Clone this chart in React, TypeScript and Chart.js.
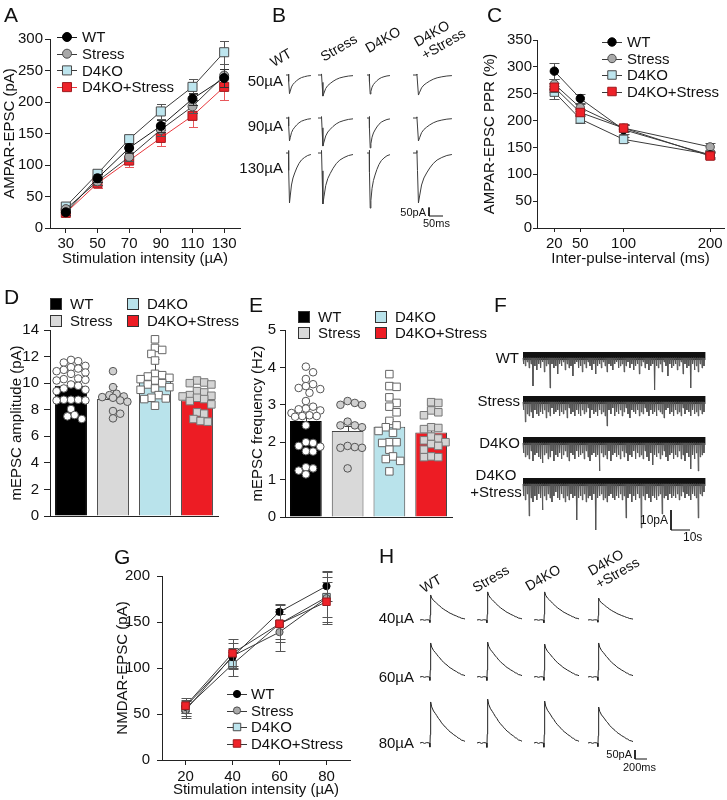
import React, { useEffect, useRef } from 'react';
import { Chart, registerables } from 'chart.js';

const FONT = '"Liberation Sans", Arial, Helvetica, sans-serif';

/* ======================= DATA ======================= */
const groups = ['WT', 'Stress', 'D4KO', 'D4KO+Stress'];

// Panel A - AMPAR-EPSC input/output
const ampaIntensity = [30, 50, 70, 90, 110, 130];
const ampaXTicks = [30, 50, 70, 90, 110, 130];
const ampaWT = [25, 79, 127, 162, 205, 238];
const ampaStress = [30, 74, 113, 156, 193, 242];
const ampaD4KO = [34, 86, 141, 185, 224, 279];
const ampaD4KOStress = [24, 71, 107, 143, 178, 224];
const ampaErrWT = [5, 6, 8, 10, 10, 14];
const ampaErrStress = [4, 6, 7, 10, 10, 18];
const ampaErrD4KO = [5, 6, 7, 12, 12, 18];
const ampaErrD4KOStress = [4, 7, 10, 13, 17, 21];

// Panel C - paired-pulse ratio
const pprInterval = [20, 50, 100, 200];
const pprXTicks = [20, 50, 100, 200];
const pprWT = [292, 241, 183, 136];
const pprStress = [268, 224, 186, 151];
const pprD4KO = [253, 203, 165, 137];
const pprD4KOStress = [262, 215, 186, 134];
const pprErrWT = [15, 9, 8, 6];
const pprErrStress = [10, 6, 6, 7];
const pprErrD4KO = [12, 7, 5, 5];
const pprErrD4KOStress = [8, 7, 8, 5];

// Panel G - NMDAR-EPSC input/output
const nmdaIntensity = [20, 40, 60, 80];
const nmdaXTicks = [20, 40, 60, 80];
const nmdaWT = [58, 112, 161, 189];
const nmdaStress = [54, 113, 139, 176];
const nmdaD4KO = [56, 104, 148, 177];
const nmdaD4KOStress = [59, 116, 148, 172];
const nmdaErrWT = [7, 10, 9, 16];
const nmdaErrStress = [8, 14, 20, 28];
const nmdaErrD4KO = [8, 13, 16, 22];
const nmdaErrD4KOStress = [8, 16, 20, 22];

// Panel D - mEPSC amplitude (pA)
const ampMean = [9.81, 8.8, 10.38, 8.72];
const ampErr = [0.3, 0.98, 1.43, 0.45];
const ampWTCells = [11.75, 11.65, 11.55, 11.3, 11.2, 11.1, 11.0, 10.9, 10.8, 10.7, 10.35, 10.3, 10.25, 10.2, 9.9, 9.8, 9.6, 9.5, 9.4, 8.75, 8.75, 8.75, 8.7, 8.7, 8.05, 7.6, 7.5, 7.3];
const ampStressCells = [10.9, 9.7, 9.2, 9.1, 9.0, 8.95, 8.9, 8.7, 8.6, 7.9, 7.7, 7.35];
const ampD4KOCells = [13.3, 12.65, 12.5, 12.2, 11.7, 10.7, 10.6, 10.5, 10.4, 10.3, 10.2, 10.0, 9.9, 9.7, 9.6, 9.5, 9.1, 8.9, 8.85, 8.8, 8.3];
const ampD4KOStressCells = [10.2, 10.05, 10.0, 9.9, 9.4, 9.3, 9.1, 9.05, 9.0, 8.9, 8.8, 8.65, 8.4, 7.8, 7.7, 7.3, 7.15, 7.1];

// Panel E - mEPSC frequency (Hz)
const freqMean = [2.57, 2.3, 2.41, 2.26];
const freqErr = [0.15, 0.14, 0.22, 0.1];
const freqWTCells = [4.02, 3.87, 3.69, 3.55, 3.5, 3.45, 3.42, 3.32, 3.1, 2.95, 2.9, 2.88, 2.85, 2.78, 2.72, 2.7, 2.7, 2.68, 2.45, 2.0, 1.98, 1.9, 1.88, 1.76, 1.75, 1.33, 1.3, 1.24, 1.14];
const freqStressCells = [3.1, 3.05, 3.0, 3.0, 2.55, 2.45, 2.45, 2.4, 1.9, 1.87, 1.85, 1.85, 1.3];
const freqD4KOCells = [3.82, 3.5, 3.48, 3.2, 3.05, 2.95, 2.8, 2.57, 2.45, 2.4, 2.3, 2.25, 2.0, 2.0, 1.98, 1.8, 1.62, 1.55, 1.5, 1.22];
const freqD4KOStressCells = [3.07, 3.05, 2.85, 2.8, 2.72, 2.4, 2.38, 2.35, 2.15, 2.1, 2.05, 2.0, 1.95, 1.9, 1.8, 1.62, 1.6, 1.6];

// Panel B - AMPAR-EPSC example traces
const ampaTraceRows = ['50\u00B5A', '90\u00B5A', '130\u00B5A'];
const ampaTraceAmp = [ // pA, rows x groups
  [110, 124, 112, 118],
  [135, 165, 176, 135],
  [294, 300, 324, 294],
];
const ampaTraceDur = [89, 125, 82, 139]; // ms
// waveform: [fraction of trace time, fraction of peak]
const ampaShape = [
  [0, 0], [0.1, 0], [0.1, 0.05], [0.115, -0.35], [0.14, -1], [0.17, -0.86], [0.22, -0.64],
  [0.28, -0.5], [0.35, -0.4], [0.43, -0.3], [0.52, -0.21], [0.62, -0.14], [0.74, -0.09],
  [0.87, -0.05], [1, -0.03],
];
const ampaScalePA = 50;
const ampaScaleMs = 50;

// Panel H - NMDAR-EPSC example traces
const nmdaTraceRows = ['40\u00B5A', '60\u00B5A', '80\u00B5A'];
const nmdaTraceAmp = [
  [139, 156, 156, 122],
  [189, 194, 183, 189],
  [228, 244, 233, 200],
];
const nmdaTraceDur = 750; // ms
const nmdaShape = [
  [0, 0], [0.05, 0.015], [0.1, -0.01], [0.15, 0.01], [0.21, 0], [0.22, -0.1], [0.228, 0.2],
  [0.237, 1], [0.26, 0.88], [0.3, 0.78], [0.34, 0.72], [0.37, 0.67], [0.41, 0.6], [0.44, 0.56],
  [0.48, 0.49], [0.52, 0.44], [0.56, 0.39], [0.6, 0.35], [0.64, 0.3], [0.67, 0.27], [0.71, 0.24],
  [0.74, 0.21], [0.78, 0.18], [0.81, 0.16], [0.85, 0.12], [0.88, 0.11], [0.92, 0.07], [0.96, 0.06], [1, 0.04],
];
const nmdaScalePA = 50;
const nmdaScaleMs = 200;

// Panel F - spontaneous mEPSC recordings: event depth (pA) per 1-s bin
const fWT = [2, 3, 1, 4, 2, 13, 3, 5, 2, 4, 1, 6, 3, 2, 14, 2, 4, 3, 7, 2, 3, 1, 5, 2, 4, 3, 8, 2, 1, 4, 3, 6, 2, 4, 1, 3, 5, 2, 7, 3, 2, 4, 1, 3, 6, 2, 3, 5, 2, 1, 4, 3, 2, 6, 3, 1, 4, 2, 5, 3, 2, 7, 3, 1, 4, 2, 5, 3, 2, 15, 3, 4, 2, 6, 1, 3, 8, 2, 4, 3, 2, 5, 3, 1, 7, 2, 4, 3, 14, 2, 5, 3, 6, 2, 4, 3];
const fStress = [3, 9, 5, 6, 4, 7, 3, 5, 6, 4, 5, 3, 7, 4, 6, 2, 5, 4, 3, 6, 4, 5, 3, 7, 2, 5, 4, 6, 3, 5, 6, 3, 5, 4, 2, 7, 3, 5, 4, 6, 3, 5, 4, 6, 11, 3, 5, 2, 6, 4, 5, 3, 6, 4, 2, 5, 7, 3, 4, 5, 3, 6, 4, 5, 2, 4, 6, 3, 5, 4, 6, 3, 4, 5, 7, 3, 2, 5, 4, 6, 3, 5, 4, 6, 2, 5, 3, 4, 6, 3, 5, 4, 6, 3, 5, 4];
const fD4KO = [4, 6, 5, 7, 3, 8, 5, 4, 6, 7, 9, 5, 4, 7, 6, 3, 8, 5, 6, 4, 7, 5, 3, 6, 8, 4, 5, 7, 3, 6, 5, 4, 7, 3, 6, 8, 5, 4, 6, 5, 13, 4, 6, 5, 7, 3, 8, 5, 4, 6, 5, 7, 3, 6, 4, 8, 5, 6, 3, 7, 4, 6, 5, 7, 3, 6, 8, 4, 10, 5, 6, 4, 7, 5, 3, 6, 8, 5, 4, 7, 5, 6, 3, 7, 5, 8, 4, 6, 12, 5, 7, 4, 13, 6, 5, 4];
const fD4KOStress = [5, 7, 4, 15, 6, 8, 5, 7, 4, 6, 12, 5, 7, 4, 6, 8, 5, 3, 6, 7, 4, 6, 8, 5, 7, 4, 6, 5, 17, 6, 5, 7, 4, 8, 6, 5, 7, 4, 22, 6, 5, 4, 7, 6, 8, 5, 4, 6, 7, 5, 6, 4, 7, 5, 16, 6, 4, 8, 5, 7, 4, 6, 21, 5, 7, 4, 6, 8, 5, 6, 7, 5, 4, 14, 6, 5, 7, 4, 6, 5, 6, 4, 7, 5, 3, 6, 4, 5, 7, 4, 5, 6, 16, 4, 5, 3];
const fTraces = [fWT, fStress, fD4KO, fD4KOStress];
const fRowLabels = ['WT', 'Stress', 'D4KO', 'D4KO\n+Stress'];
const fScalePA = 10;
const fScaleS = 10;

/* ======================= STYLE / LAYOUT ======================= */
const AX = '#222';
const markerStyle = [
  { shape: 'circle', fill: '#000000', border: '#000000' },
  { shape: 'circle', fill: '#a9a9a9', border: '#4a4a4a' },
  { shape: 'rect', fill: '#bde5ee', border: '#4a4a4a' },
  { shape: 'rect', fill: '#ee2229', border: '#9e1b1f' },
];
const barFill = ['#000000', '#d9d9d9', '#b9e3eb', '#ed1c24'];
const barBorder = ['#000000', '#444444', '#444444', '#444444'];
const cellStyle = [
  { shape: 'circle', r: 3.8, fill: '#ffffff', border: '#555555' },
  { shape: 'circle', r: 3.8, fill: '#d0d0d0', border: '#555555' },
  { shape: 'rect', r: 5.3, fill: '#ffffff', border: '#666666' },
  { shape: 'rect', r: 5.3, fill: '#d4d4d4', border: '#777777' },
];

/* ======================= PLUGINS ======================= */
function drawErr(chart: any, meta: any, ds: any, upOnly: boolean) {
  const ctx = chart.ctx;
  const ys = chart.scales[meta.yAxisID];
  const cap = ds.capWidth || 8;
  ctx.save();
  ctx.strokeStyle = ds.errorColor || '#333';
  ctx.lineWidth = 1;
  meta.data.forEach((el: any, i: number) => {
    const e = ds.errors[i];
    if (!e) return;
    const raw = ds.data[i];
    const v = typeof raw === 'number' ? raw : raw.y;
    const top = Math.round(ys.getPixelForValue(v + e)) + 0.5;
    const bot = Math.round(ys.getPixelForValue(upOnly ? v : v - e)) + 0.5;
    const x = Math.round(el.x) + 0.5;
    ctx.beginPath();
    ctx.moveTo(x, top); ctx.lineTo(x, bot);
    ctx.moveTo(x - cap / 2, top); ctx.lineTo(x + cap / 2, top);
    if (!upOnly) { ctx.moveTo(x - cap / 2, bot); ctx.lineTo(x + cap / 2, bot); }
    ctx.stroke();
  });
  ctx.restore();
}

const errorBars = {
  id: 'errorBars',
  beforeDatasetDraw(chart: any, args: any) {
    const ds = chart.data.datasets[args.index];
    if (!ds.errors || args.meta.type === 'bar') return;
    drawErr(chart, args.meta, ds, false);
  },
  afterDatasetDraw(chart: any, args: any) {
    const ds = chart.data.datasets[args.index];
    if (!ds.errors || args.meta.type !== 'bar') return;
    drawErr(chart, args.meta, ds, true);
  },
};

function drawMarker(ctx: any, x: number, y: number, shape: string, r: number, fill: string, border: string) {
  ctx.beginPath();
  if (shape === 'rect') {
    const s = r * Math.SQRT1_2;
    ctx.rect(x - s, y - s, 2 * s, 2 * s);
  } else {
    ctx.arc(x, y, r, 0, Math.PI * 2);
  }
  ctx.fillStyle = fill; ctx.fill();
  ctx.strokeStyle = border; ctx.lineWidth = 1; ctx.stroke();
}

const lineLegend = {
  id: 'lineLegend',
  afterDraw(chart: any, _a: any, o: any) {
    if (!o || o.x == null) return;
    const ctx = chart.ctx;
    ctx.save();
    chart.data.datasets.forEach((ds: any, i: number) => {
      const y = o.y + i * o.dy;
      ctx.strokeStyle = ds.borderColor; ctx.lineWidth = 1;
      ctx.beginPath(); ctx.moveTo(o.x - o.half, Math.round(y) + 0.5); ctx.lineTo(o.x + o.half, Math.round(y) + 0.5); ctx.stroke();
      drawMarker(ctx, o.x, y, ds.pointStyle, ds.pointRadius, ds.pointBackgroundColor, ds.pointBorderColor);
      ctx.fillStyle = '#111';
      ctx.font = `${o.size}px ${FONT}`;
      ctx.textBaseline = 'middle'; ctx.textAlign = 'left';
      ctx.fillText(ds.label, o.textX, y + 1);
    });
    ctx.restore();
  },
};

const boxLegend = {
  id: 'boxLegend',
  afterDraw(chart: any, _a: any, o: any) {
    if (!o || o.cols == null) return;
    const ctx = chart.ctx;
    const ds = chart.data.datasets[0];
    ctx.save();
    chart.data.labels.forEach((lab: string, i: number) => {
      const x = o.cols[Math.floor(i / 2)];
      const y = o.rows[i % 2];
      const s = o.size;
      ctx.fillStyle = ds.backgroundColor[i];
      ctx.fillRect(x, Math.round(y - s / 2), s, s);
      ctx.strokeStyle = '#333'; ctx.lineWidth = 1;
      ctx.strokeRect(x + 0.5, Math.round(y - s / 2) + 0.5, s - 1, s - 1);
      ctx.fillStyle = '#111';
      ctx.font = `${o.fontSize}px ${FONT}`;
      ctx.textBaseline = 'middle'; ctx.textAlign = 'left';
      ctx.fillText(lab, x + s + o.gap, y + 1);
    });
    ctx.restore();
  },
};

Chart.register(...registerables, errorBars, lineLegend, boxLegend);
Chart.defaults.font.family = FONT;
Chart.defaults.font.size = 15;
Chart.defaults.color = '#111';

/* ======================= CONFIG BUILDERS ======================= */
function baseOptions(box: any, area: any) {
  return {
    responsive: false, maintainAspectRatio: false, animation: false, events: [], devicePixelRatio: 1,
    layout: { autoPadding: false, padding: { left: 0, top: area.t - box.y, right: box.x + box.w - area.r, bottom: 0 } },
  };
}

function lineChart(p: any) {
  const { box, area } = p;
  const datasets = p.values.map((vals: number[], i: number) => ({
    type: 'line', label: groups[i],
    data: p.xs.map((x: number, k: number) => ({ x, y: vals[k] })),
    borderColor: p.lineColors[i], borderWidth: 1, tension: 0, fill: false,
    pointStyle: markerStyle[i].shape,
    pointRadius: markerStyle[i].shape === 'rect' ? p.rRect : p.rCircle,
    pointBackgroundColor: markerStyle[i].fill, pointBorderColor: markerStyle[i].border, pointBorderWidth: 1,
    errors: p.errors[i], errorColor: p.errColors[i], capWidth: p.cap, order: p.orders[i],
  }));
  return {
    type: 'line',
    data: { datasets },
    options: {
      ...baseOptions(box, area),
      plugins: { legend: { display: false }, tooltip: { enabled: false }, lineLegend: p.legend },
      scales: {
        x: {
          type: 'linear', min: p.xMin, max: p.xMax,
          afterBuildTicks: (s: any) => { s.ticks = p.xTicks.map((v: number) => ({ value: v })); },
          ticks: { autoSkip: false, maxRotation: 0, padding: p.xTickPad, color: '#111' },
          grid: { drawOnChartArea: false, tickLength: p.tickLen, color: AX },
          border: { color: AX, width: 1 },
          title: { display: true, text: p.xTitle, color: '#111', padding: { top: 0, bottom: p.xTitlePad } },
          afterFit: (s: any) => { s.height = box.y + box.h - area.b; },
        },
        y: {
          type: 'linear', min: 0, max: p.yMax,
          ticks: { stepSize: p.yStep, padding: p.yTickPad, color: '#111' },
          grid: { drawOnChartArea: false, tickLength: p.tickLen, color: AX },
          border: { color: AX, width: 1 },
          title: { display: true, text: p.yTitle, color: '#111', padding: { top: p.yTitlePad, bottom: 0 } },
          afterFit: (s: any) => { s.width = area.l - box.x; },
        },
      },
    },
  };
}

// horizontal spread of individual cells inside a bar (layout only)
function swarmOffsets(vals: number[], pxPerUnit: number, catPx: number): number[] {
  const step = 3.6, minDist = 6.8, maxOff = 14.5;
  const idx = vals.map((_, i) => i).sort((a, b) => vals[b] - vals[a]);
  const placed: { x: number; y: number }[] = [];
  const out = new Array(vals.length).fill(0);
  for (const i of idx) {
    const y = vals[i] * pxPerUnit;
    let chosen: number | null = null;
    let bestX = 0, bestD = -1;
    for (let k = 0; k < 40; k++) {
      const cand = k === 0 ? 0 : (k % 2 ? 1 : -1) * Math.ceil(k / 2) * step;
      if (Math.abs(cand) > maxOff) break;
      const d = placed.reduce((m, q) => Math.min(m, Math.hypot(q.x - cand, q.y - y)), 1e9);
      if (d >= minDist) { chosen = cand; break; }
      if (d > bestD) { bestD = d; bestX = cand; }
    }
    const x = chosen === null ? bestX : chosen;
    placed.push({ x, y });
    out[i] = x / catPx;
  }
  return out;
}

function barChart(p: any) {
  const { box, area } = p;
  const pxPerUnit = (area.b - area.t) / p.yMax;
  const catPx = (area.r - area.l) / groups.length;
  const datasets: any[] = [{
    type: 'bar', xAxisID: 'x', yAxisID: 'y',
    data: p.means.map((m: number, i: number) => ({ x: i, y: m })),
    backgroundColor: barFill, borderColor: barBorder, borderWidth: 1,
    barPercentage: 0.76, categoryPercentage: 1, grouped: false,
    errors: p.errs, errorColor: '#444', capWidth: 8, order: 5,
  }];
  p.cells.forEach((vals: number[], gi: number) => {
    const st = cellStyle[gi];
    const off = swarmOffsets(vals, pxPerUnit, catPx);
    datasets.push({
      type: 'scatter', xAxisID: 'x', yAxisID: 'y',
      data: vals.map((v, k) => ({ x: gi + off[k], y: v })),
      pointStyle: st.shape, pointRadius: st.r,
      backgroundColor: st.fill, borderColor: st.border,
      pointBackgroundColor: st.fill, pointBorderColor: st.border, pointBorderWidth: 1, order: 1,
    });
  });
  return {
    type: 'bar',
    data: { labels: groups, datasets },
    options: {
      ...baseOptions(box, area),
      plugins: { legend: { display: false }, tooltip: { enabled: false }, boxLegend: p.legend },
      scales: {
        x: {
          type: 'linear', min: -0.5, max: groups.length - 0.5, offset: false,
          grid: { display: false, offset: false }, ticks: { display: false },
          border: { display: true, color: AX, width: 1 },
          afterFit: (s: any) => { s.height = box.y + box.h - area.b; },
        },
        y: {
          type: 'linear', min: 0, max: p.yMax,
          ticks: { stepSize: p.yStep, padding: p.yTickPad, color: '#111' },
          grid: { drawOnChartArea: false, tickLength: p.tickLen, color: AX },
          border: { color: AX, width: 1 },
          title: { display: true, text: p.yTitle, color: '#111', padding: { top: p.yTitlePad, bottom: 0 } },
          afterFit: (s: any) => { s.width = area.l - box.x; },
        },
      },
    },
  };
}

function traceChart(box: any, pxX: number, pxY: number, datasets: any[]) {
  return {
    type: 'scatter',
    data: { datasets },
    options: {
      responsive: false, maintainAspectRatio: false, animation: false, events: [], devicePixelRatio: 1,
      layout: { autoPadding: false, padding: 0 },
      plugins: { legend: { display: false }, tooltip: { enabled: false } },
      scales: {
        x: { type: 'linear', display: false, min: 0, max: box.w / pxX },
        y: { type: 'linear', display: false, min: -box.h / pxY, max: 0 },
      },
    },
  };
}

function traceLine(data: any[], color: string, width = 1) {
  return { data, showLine: true, pointRadius: 0, borderColor: color, borderWidth: width, tension: 0, borderCapStyle: 'butt' };
}

/* ---------- boxes (page px) ---------- */
const boxA = { x: 0, y: 0, w: 245, h: 270 };
const areaA = { l: 50, t: 39, r: 240, b: 228 };
const boxC = { x: 480, y: 0, w: 247, h: 270 };
const areaC = { l: 537, t: 40, r: 724, b: 228 };
const boxG = { x: 113, y: 560, w: 247, h: 240 };
const areaG = { l: 162, t: 576, r: 350, b: 760 };
const boxD = { x: 0, y: 285, w: 245, h: 245 };
const areaD = { l: 50, t: 330, r: 218, b: 518 };
const boxE = { x: 245, y: 285, w: 245, h: 245 };
const areaE = { l: 285, t: 330, r: 452, b: 518 };
const boxB = { x: 230, y: 30, w: 250, h: 210 };
const boxF = { x: 480, y: 330, w: 247, h: 220 };
const boxH = { x: 380, y: 560, w: 347, h: 240 };

const makeA = () => lineChart({
  box: boxA, area: areaA, xs: ampaIntensity, xMin: 20, xMax: 140, xTicks: ampaXTicks, yMax: 300, yStep: 50,
  values: [ampaWT, ampaStress, ampaD4KO, ampaD4KOStress],
  errors: [ampaErrWT, ampaErrStress, ampaErrD4KO, ampaErrD4KOStress],
  lineColors: ['#1a1a1a', '#3a3a3a', '#3a3a3a', '#e8383d'],
  errColors: ['#333', '#555', '#555', '#e8585c'], orders: [0, 1, 2, 3],
  rCircle: 4.5, rRect: 6.4, cap: 9, tickLen: 5, yTickPad: 2, yTitlePad: 1, xTickPad: 2, xTitlePad: 2,
  xTitle: 'Stimulation intensity (\u00B5A)', yTitle: 'AMPAR-EPSC (pA)',
  legend: { x: 67, y: 37, dy: 16.7, half: 10, textX: 82, size: 15 },
});

const makeC = () => lineChart({
  box: boxC, area: areaC, xs: pprInterval, xMin: 0, xMax: 216, xTicks: pprXTicks, yMax: 350, yStep: 50,
  values: [pprWT, pprStress, pprD4KO, pprD4KOStress],
  errors: [pprErrWT, pprErrStress, pprErrD4KO, pprErrD4KOStress],
  lineColors: ['#3a3a3a', '#3a3a3a', '#3a3a3a', '#3a3a3a'],
  errColors: ['#555', '#555', '#555', '#555'], orders: [1, 2, 3, 0],
  rCircle: 4.2, rRect: 6.0, cap: 10, tickLen: 4, yTickPad: 1, yTitlePad: 1, xTickPad: 3, xTitlePad: 2,
  xTitle: 'Inter-pulse-interval (ms)', yTitle: 'AMPAR-EPSC PPR (%)',
  legend: { x: 132, y: 42, dy: 16.5, half: 10, textX: 147, size: 15 },
});

const makeG = () => lineChart({
  box: boxG, area: areaG, xs: nmdaIntensity, xMin: 10, xMax: 90, xTicks: nmdaXTicks, yMax: 200, yStep: 50,
  values: [nmdaWT, nmdaStress, nmdaD4KO, nmdaD4KOStress],
  errors: [nmdaErrWT, nmdaErrStress, nmdaErrD4KO, nmdaErrD4KOStress],
  lineColors: ['#3a3a3a', '#3a3a3a', '#3a3a3a', '#3a3a3a'],
  errColors: ['#555', '#555', '#555', '#555'], orders: [1, 2, 3, 0],
  rCircle: 3.6, rRect: 5.3, cap: 10, tickLen: 5, yTickPad: 7, yTitlePad: 1, xTickPad: 3, xTitlePad: 1,
  xTitle: 'Stimulation intensity (\u00B5A)', yTitle: 'NMDAR-EPSC (pA)',
  legend: { x: 124, y: 134, dy: 16.5, half: 10, textX: 138, size: 15 },
});

const makeD = () => barChart({
  box: boxD, area: areaD, yMax: 14, yStep: 2, means: ampMean, errs: ampErr,
  cells: [ampWTCells, ampStressCells, ampD4KOCells, ampD4KOStressCells],
  yTitle: 'mEPSC amplitude (pA)', tickLen: 6, yTickPad: 5, yTitlePad: 8,
  legend: { cols: [50, 127], rows: [19, 36], size: 12, gap: 8, fontSize: 15 },
});

const makeE = () => barChart({
  box: boxE, area: areaE, yMax: 5, yStep: 1, means: freqMean, errs: freqErr,
  cells: [freqWTCells, freqStressCells, freqD4KOCells, freqD4KOStressCells],
  yTitle: 'mEPSC frequency (Hz)', tickLen: 5, yTickPad: 4, yTitlePad: 4,
  legend: { cols: [53, 130], rows: [32, 48], size: 12, gap: 8, fontSize: 15 },
});

// Panel B layout
const bLay = { pxX: 0.28, pxY: 0.17, colX: [286, 318, 367, 413], rowY: [75, 118, 153], bar: { x: 429, y: 216 } };
const makeB = () => {
  const ux = (X: number) => (X - boxB.x) / bLay.pxX;
  const uy = (Y: number) => -(Y - boxB.y) / bLay.pxY;
  const ds: any[] = [];
  ampaTraceRows.forEach((_r, ri) => groups.forEach((_g, gi) => {
    const x0 = ux(bLay.colX[gi]); const y0 = uy(bLay.rowY[ri]);
    const dur = ampaTraceDur[gi]; const amp = ampaTraceAmp[ri][gi];
    ds.push(traceLine(ampaShape.map(([f, a]) => ({ x: x0 + f * dur, y: y0 + a * amp })), '#3c3c3c'));
  }));
  const sx = ux(bLay.bar.x); const sy = uy(bLay.bar.y);
  ds.push(traceLine([{ x: sx, y: sy + ampaScalePA }, { x: sx, y: sy }, { x: sx + ampaScaleMs, y: sy }], '#111'));
  return traceChart(boxB, bLay.pxX, bLay.pxY, ds);
};

// Panel H layout
const hLay = { pxX: 0.06, pxY: 0.18, colX: [420, 477, 534, 588], rowY: [620, 677, 743], bar: { x: 635, y: 759 } };
const makeH = () => {
  const ux = (X: number) => (X - boxH.x) / hLay.pxX;
  const uy = (Y: number) => -(Y - boxH.y) / hLay.pxY;
  const ds: any[] = [];
  nmdaTraceRows.forEach((_r, ri) => groups.forEach((_g, gi) => {
    const x0 = ux(hLay.colX[gi]); const y0 = uy(hLay.rowY[ri]);
    const amp = nmdaTraceAmp[ri][gi];
    ds.push(traceLine(nmdaShape.map(([f, a]) => ({ x: x0 + f * nmdaTraceDur, y: y0 + a * amp })), '#222'));
  }));
  const sx = ux(hLay.bar.x); const sy = uy(hLay.bar.y);
  ds.push(traceLine([{ x: sx, y: sy + nmdaScalePA }, { x: sx, y: sy }, { x: sx + nmdaScaleMs, y: sy }], '#111'));
  return traceChart(boxH, hLay.pxX, hLay.pxY, ds);
};

// Panel F layout
const fLay = { pxX: 1.9, pxY: 2, startX: 523, rowY: [360, 404, 445, 486], bar: { x: 671, y: 530 } };
const makeF = () => {
  const ux = (X: number) => (X - boxF.x) / fLay.pxX;
  const uy = (Y: number) => -(Y - boxF.y) / fLay.pxY;
  const ds: any[] = [];
  const t0 = ux(fLay.startX);
  fTraces.forEach((tr, ri) => {
    const b = uy(fLay.rowY[ri]);
    const pts: any[] = [];
    tr.forEach((amp, i) => {
      pts.push({ x: t0 + i, y: b + 1 });
      pts.push({ x: t0 + i + 0.25, y: b - amp });
      pts.push({ x: t0 + i + 0.5, y: b + 1 });
    });
    ds.push(traceLine(pts, '#555'));
    ds.push(traceLine([{ x: t0, y: b + 2 }, { x: t0 + tr.length, y: b + 2 }], '#111', 8));
  });
  const sx = ux(fLay.bar.x); const sy = uy(fLay.bar.y);
  ds.push(traceLine([{ x: sx, y: sy + fScalePA }, { x: sx, y: sy }, { x: sx + fScaleS, y: sy }], '#111'));
  return traceChart(boxF, fLay.pxX, fLay.pxY, ds);
};

/* ======================= COMPONENTS ======================= */
function ChartCanvas({ box, make }: { box: any; make: () => any }) {
  const ref = useRef<HTMLCanvasElement>(null);
  useEffect(() => {
    const chart = new Chart(ref.current as HTMLCanvasElement, make());
    return () => chart.destroy();
  }, []);
  return (
    <canvas ref={ref} width={box.w} height={box.h}
      style={{ position: 'absolute', left: box.x, top: box.y, width: box.w, height: box.h }} />
  );
}

function Label({ x, y, text, size = 15, anchor = 'left', rotate = 0, align = 'left' }:
  { x: number; y: number; text: string; size?: number; anchor?: string; rotate?: number; align?: any }) {
  const tx = anchor === 'left' ? '0' : anchor === 'right' ? '-100%' : '-50%';
  return (
    <div style={{
      position: 'absolute', left: x, top: y, transform: `translate(${tx},-50%) rotate(${rotate}deg)`,
      fontSize: size, lineHeight: 1.1, whiteSpace: 'pre', fontFamily: FONT, color: '#111', textAlign: align,
    }}>{text}</div>
  );
}

const letters = [
  { t: 'A', x: 4, y: 15 }, { t: 'B', x: 272, y: 15 }, { t: 'C', x: 487, y: 15 },
  { t: 'D', x: 4, y: 297 }, { t: 'E', x: 249, y: 305 }, { t: 'F', x: 494, y: 305 },
  { t: 'G', x: 114, y: 557 }, { t: 'H', x: 379, y: 556 },
];
const bColLabelPos = [[281, 58], [339, 48], [383, 40], [440, 38]];
const hColLabelPos = [[431, 584], [491, 579], [543, 578], [614, 567]];
const colLabelText = ['WT', 'Stress', 'D4KO', 'D4KO\n+Stress'];
const bRowLabelY = [81, 126, 168];
const hRowLabelY = [618, 677, 743];
const fRowLabelPos = [[519, 358, 'right'], [520, 401, 'right'], [520, 443, 'right'], [496, 483, 'center']];

export default function App() {
  return (
    <div style={{ position: 'absolute', left: 0, top: 0, width: 727, height: 800, background: '#fff', overflow: 'hidden', fontFamily: FONT }}>
      <ChartCanvas box={boxA} make={makeA} />
      <ChartCanvas box={boxB} make={makeB} />
      <ChartCanvas box={boxC} make={makeC} />
      <ChartCanvas box={boxD} make={makeD} />
      <ChartCanvas box={boxE} make={makeE} />
      <ChartCanvas box={boxF} make={makeF} />
      <ChartCanvas box={boxG} make={makeG} />
      <ChartCanvas box={boxH} make={makeH} />

      {letters.map((l) => <Label key={l.t} x={l.x} y={l.y} text={l.t} size={21} />)}

      {colLabelText.map((t, i) => (
        <Label key={'bc' + i} x={bColLabelPos[i][0]} y={bColLabelPos[i][1]} text={t} size={14} anchor="center" rotate={-30} />
      ))}
      {ampaTraceRows.map((t, i) => <Label key={'br' + i} x={283} y={bRowLabelY[i]} text={t} anchor="right" />)}
      <Label x={426} y={212} text="50pA" size={11} anchor="right" />
      <Label x={423} y={223} text="50ms" size={11} />

      {fRowLabels.map((t, i) => (
        <Label key={'fr' + i} x={fRowLabelPos[i][0] as number} y={fRowLabelPos[i][1] as number} text={t}
          anchor={fRowLabelPos[i][2] as string} align={fRowLabelPos[i][2] === 'center' ? 'center' : 'right'} />
      ))}
      <Label x={668} y={521} text="10pA" size={12} anchor="right" />
      <Label x={683} y={538} text="10s" size={12} />

      {colLabelText.map((t, i) => (
        <Label key={'hc' + i} x={hColLabelPos[i][0]} y={hColLabelPos[i][1]} text={t} size={14} anchor="center" rotate={-30} />
      ))}
      {nmdaTraceRows.map((t, i) => <Label key={'hr' + i} x={414} y={hRowLabelY[i]} text={t} anchor="right" />)}
      <Label x={632} y={754} text="50pA" size={11} anchor="right" />
      <Label x={623} y={767} text="200ms" size={11} />
    </div>
  );
}
